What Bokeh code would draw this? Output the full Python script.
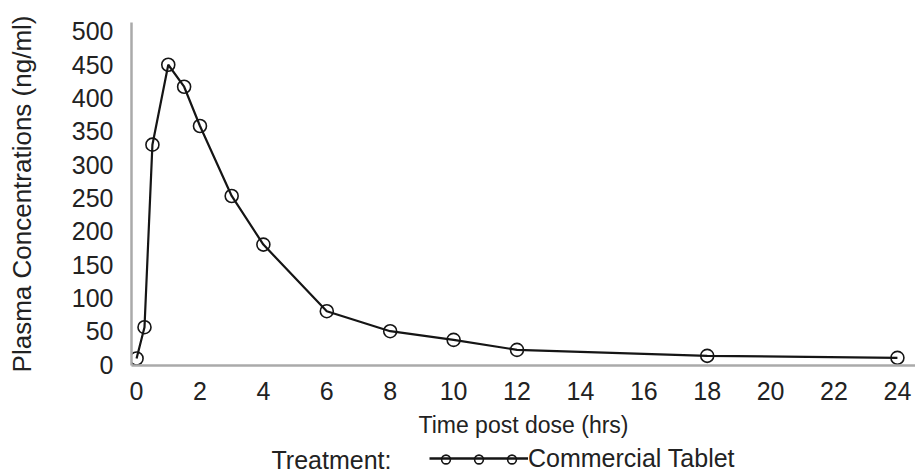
from bokeh.plotting import figure
from bokeh.models import Range1d, FixedTicker, Legend, LegendItem, Label
from bokeh.layouts import column
from bokeh.embed import file_html
from bokeh.resources import INLINE

time_hrs = [0, 0.25, 0.5, 1, 1.5, 2, 3, 4, 6, 8, 10, 12, 18, 24]
conc = [9, 56, 330, 450, 417, 358, 253, 180, 80, 50, 37, 22, 13, 10]
x_ticks = list(range(0, 25, 2))
y_ticks = list(range(0, 501, 50))
series_name = "Commercial Tablet"
legend_title = "Treatment:"

FONT = "Liberation Sans"
TXT = "#222222"
INK = "#151515"

p = figure(width=915, height=440, output_backend="svg", toolbar_location=None,
           x_range=Range1d(-0.16, 24.57), y_range=Range1d(-1.5, 513.4),
           min_border_left=131, min_border_right=0, min_border_top=22, min_border_bottom=72)
p.outline_line_color = None
p.grid.visible = False

for ax in (p.xaxis[0], p.yaxis[0]):
    ax.axis_line_color = "#aaaaaa"
    ax.axis_line_width = 2.5
    ax.major_tick_line_color = None
    ax.minor_tick_line_color = None
    ax.major_label_text_font = FONT
    ax.major_label_text_font_size = "25px"
    ax.major_label_text_color = TXT
    ax.axis_label_text_font = FONT
    ax.axis_label_text_font_style = "normal"
    ax.axis_label_text_color = TXT

p.xaxis.ticker = FixedTicker(ticks=x_ticks)
p.yaxis.ticker = FixedTicker(ticks=y_ticks)
p.xaxis.major_label_standoff = 10
p.yaxis.major_label_standoff = 12
p.xaxis.axis_label = "Time post dose (hrs)"
p.yaxis.axis_label = "Plasma Concentrations (ng/ml)"
p.xaxis.axis_label_text_font_size = "23px"
p.yaxis.axis_label_text_font_size = "26px"
p.xaxis.axis_label_standoff = 9
p.yaxis.axis_label_standoff = 32

p.line(time_hrs, conc, line_color=INK, line_width=2.2)
p.scatter(time_hrs, conc, marker="circle", size=13, fill_color=None,
          line_color=INK, line_width=1.6)

# legend strip below the chart (key renderers hidden; legends still draw their style)
lg = figure(width=915, height=34, output_backend="svg", toolbar_location=None,
            x_range=Range1d(100, 101), y_range=Range1d(1000, 1001),
            x_axis_location=None, y_axis_location=None, min_border=0)
lg.outline_line_color = None
lg.grid.visible = False
key_line = lg.line(time_hrs, conc, line_color=INK, line_width=2.4, visible=False)
key_pts = lg.scatter(time_hrs, conc, marker="circle", fill_color=None, line_color=INK,
                     line_width=1.6, visible=False)

common = dict(orientation="horizontal", glyph_height=22,
              label_standoff=0, label_width=0, label_height=22, padding=0, margin=0,
              border_line_color=None, background_fill_alpha=0,
              label_text_font=FONT, label_text_font_size="25px", label_text_color=TXT,
              label_text_baseline="middle")

# continuous key line underneath
line_legend = Legend(items=[LegendItem(label="", renderers=[key_line])],
                     location=(298, 5), glyph_width=99, spacing=0, **common)
# three key circles followed by the series name
pts_legend = Legend(items=[LegendItem(label="", renderers=[key_pts]),
                           LegendItem(label="", renderers=[key_pts]),
                           LegendItem(label=series_name, renderers=[key_pts])],
                    location=(298, 1), glyph_width=33, spacing=-5, **common)
lg.add_layout(line_legend, "center")
lg.add_layout(pts_legend, "center")
lg.add_layout(Label(x=140, y=15, x_units="screen", y_units="screen", text=legend_title,
                    text_baseline="middle",
                    text_font=FONT, text_font_size="25px", text_color=TXT))

open("out.html", "w").write(file_html(column(p, lg, spacing=0), INLINE))
